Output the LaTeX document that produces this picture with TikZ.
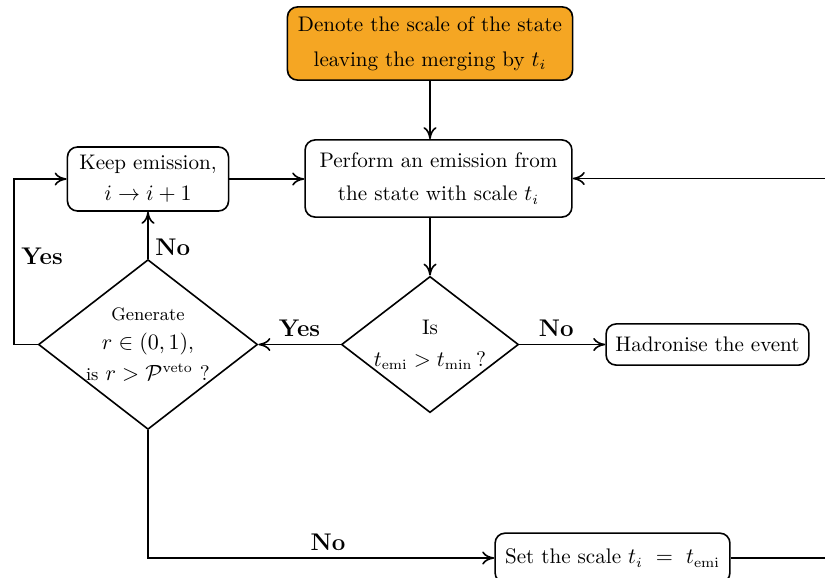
\documentclass[tikz,border=0pt]{standalone}
\usetikzlibrary{shapes.geometric,arrows.meta}
\definecolor{startorange}{RGB}{245,166,35}
\newcommand*{\flowtextstyle}{\fontsize{10.5}{14.5}\selectfont}
\newcommand*{\answerstyle}{\large\bfseries}
\tikzset{
   flowbox/.style   = {draw=black, thick, rounded corners=5pt, align=center,
                       inner sep=2pt, font=\flowtextstyle},
   flowcheck/.style = {draw=black, thick, diamond, align=center, inner sep=0pt,
                       font=\flowtextstyle},
   flowline/.style  = {-{To[length=6pt, width=6.5pt]}, thick}
}

\begin{document}
\begin{tikzpicture}[x=0.0175cm, y=-0.0175cm]

    \useasboundingbox (0,0) rectangle (825,577);

    % boxes
    \node[flowbox, fill=startorange, minimum width=4.99cm, minimum height=1.28cm]
        (start) at (430, 43.5) {Denote the scale of the state\\[3pt] leaving the merging by $t_i$};

    \node[flowbox, minimum width=4.67cm, minimum height=1.35cm]
        (emit) at (438.5, 178.5) {Perform an emission from\\[2pt] the state with scale $t_i$};

    \node[flowbox, minimum width=2.82cm, minimum height=1.12cm]
        (keep) at (148, 179) {Keep emission,\\[1pt] $i \rightarrow i+1$};

    \node[flowbox, minimum width=3.55cm, minimum height=0.72cm]
        (hadron) at (707.5, 344.5) {Hadronise the event};

    \node[flowbox, minimum width=4.11cm, minimum height=0.87cm]
        (setscale) at (612.5, 558) {Set the scale $t_i\ =\ t_{\mathrm{emi}}$};

    % decisions
    \node[flowcheck, aspect=1.3, minimum width=3.045cm, minimum height=2.345cm]
        (ismin) at (430, 344.5) {Is\\[1.5pt] $t_{\mathrm{emi}} > t_{\mathrm{min}}\,$?};

    \node[flowcheck, aspect=1.29, minimum width=3.8cm, minimum height=2.94cm]
        (veto) at (148, 344.5) {{\small Generate}\\ $r \in (0,1)$,\\[1pt]
        {\small is} $r > \mathcal{P}^{\mathrm{veto}}$ ?};

    % loop corners
    \coordinate (yescorner) at (14, 344.5);
    \coordinate (backcorner) at (870, 558);

    % connectors
    \draw[flowline] (start.south) -- (start.south |- emit.north);
    \draw[flowline] (ismin.north |- emit.south) -- (ismin.north);
    \draw[flowline] (keep.east) -- (keep.east -| emit.west);
    \draw[flowline] (ismin.west) -- node[above, font=\answerstyle] {Yes} (veto.east);
    \draw[flowline] (ismin.east) -- node[above, pos=0.43, font=\answerstyle] {No} (hadron.west);
    \draw[flowline] (veto.north) -- node[right, pos=0.25, font=\answerstyle] {No} (veto.north |- keep.south);
    \draw[flowline] (veto.west) -- (yescorner)
        -- node[right, pos=0.53, font=\answerstyle] {Yes} (yescorner |- keep.west) -- (keep.west);
    \draw[flowline] (veto.south) -- (veto.south |- setscale.west)
        -- node[above, pos=0.52, font=\answerstyle] {No} (setscale.west);
    \draw[flowline] (setscale.east) -- (backcorner) -- (backcorner |- emit.east) -- (emit.east);

\end{tikzpicture}
\end{document}
